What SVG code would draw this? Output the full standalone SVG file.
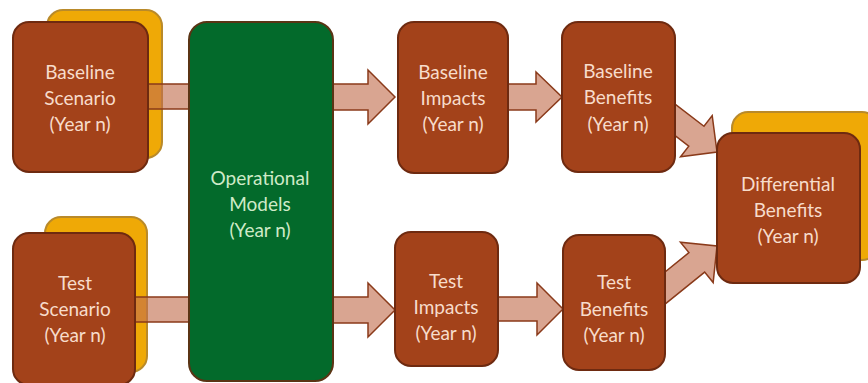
<svg xmlns="http://www.w3.org/2000/svg" width="868" height="383" viewBox="0 0 868 383">
<defs>
<style>
.box{fill:#a3421a;stroke:#6e2a10;stroke-width:2}
.back{fill:#efa906;stroke:#b98a2a;stroke-width:2}
.ops{fill:#036a2b;stroke:#5a3414;stroke-width:2}
.arr{fill:rgb(193,110,77);fill-opacity:0.62;stroke:#8a3a1a;stroke-width:1.5;stroke-linejoin:miter}
.band{fill:rgb(193,110,77);fill-opacity:0.62;stroke:#8a3a1a;stroke-width:1.5}
text{font-family:Lato,"Open Sans","Liberation Sans",sans-serif;font-size:19px;text-anchor:middle}
.t{fill:#f7dccb}
.g{fill:#cfeac8}
</style>
</defs>
<rect width="868" height="383" fill="#ffffff"/>
<g id="back-layers">
<rect class="back" x="47" y="10" width="115" height="148" rx="16"/>
<rect class="back" x="45" y="217" width="102" height="155" rx="16"/>
<rect class="back" x="732" y="112" width="146" height="148" rx="16"/>
</g>
<g id="connectors">
<rect class="band" x="140" y="84" width="52" height="25"/>
<rect class="band" x="128" y="297" width="64" height="25"/>
<path class="arr" d="M333,84 H368 V70 L395,97 L368,124 V110 H333 Z"/>
<path class="arr" d="M333,297 H368 V283 L395,310 L368,337 V323 H333 Z"/>
<path class="arr" d="M508,84 H536 V72 L562,97 L536,122 V110 H508 Z"/>
<path class="arr" d="M498,297 H537 V283 L563,309 L537,335 V321 H498 Z"/>
<path class="arr" transform="translate(717,152) rotate(37.5)" d="M-85,-12.5 H-26 V-26 L0,0 L-26,26 V12.5 H-85 Z"/>
<path class="arr" transform="translate(717,246) rotate(-39)" d="M-85,-12.5 H-26 V-26 L0,0 L-26,26 V12.5 H-85 Z"/>
</g>
<g id="baseline-scenario">
<rect class="box" x="13" y="22" width="135" height="150" rx="16"/>
<text class="t" x="80" y="79">Baseline</text>
<text class="t" x="80" y="105">Scenario</text>
<text class="t" x="80" y="131">(Year n)</text>
</g>
<g id="test-scenario">
<rect class="box" x="13" y="233" width="122" height="152" rx="16"/>
<text class="t" x="75" y="290">Test</text>
<text class="t" x="75" y="316">Scenario</text>
<text class="t" x="75" y="342">(Year n)</text>
</g>
<g id="operational-models">
<rect class="ops" x="189" y="22" width="144" height="359" rx="18"/>
<text class="g" x="260" y="185">Operational</text>
<text class="g" x="260" y="211">Models</text>
<text class="g" x="260" y="237">(Year n)</text>
</g>
<g id="baseline-impacts">
<rect class="box" x="398" y="22" width="110" height="151" rx="16"/>
<text class="t" x="453" y="79">Baseline</text>
<text class="t" x="453" y="105">Impacts</text>
<text class="t" x="453" y="131">(Year n)</text>
</g>
<g id="baseline-benefits">
<rect class="box" x="562" y="22" width="113" height="150" rx="16"/>
<text class="t" x="618" y="78">Baseline</text>
<text class="t" x="618" y="104">Benefits</text>
<text class="t" x="618" y="131">(Year n)</text>
</g>
<g id="test-impacts">
<rect class="box" x="395" y="232" width="103" height="134" rx="16"/>
<text class="t" x="446" y="288">Test</text>
<text class="t" x="446" y="314">Impacts</text>
<text class="t" x="446" y="340">(Year n)</text>
</g>
<g id="test-benefits">
<rect class="box" x="563" y="235" width="102" height="135" rx="16"/>
<text class="t" x="614" y="289">Test</text>
<text class="t" x="614" y="316">Benefits</text>
<text class="t" x="614" y="342">(Year n)</text>
</g>
<g id="differential-benefits">
<rect class="box" x="717" y="133" width="143" height="150" rx="16"/>
<text class="t" x="788" y="191">Differential</text>
<text class="t" x="788" y="217">Benefits</text>
<text class="t" x="788" y="243">(Year n)</text>
</g>
</svg>
